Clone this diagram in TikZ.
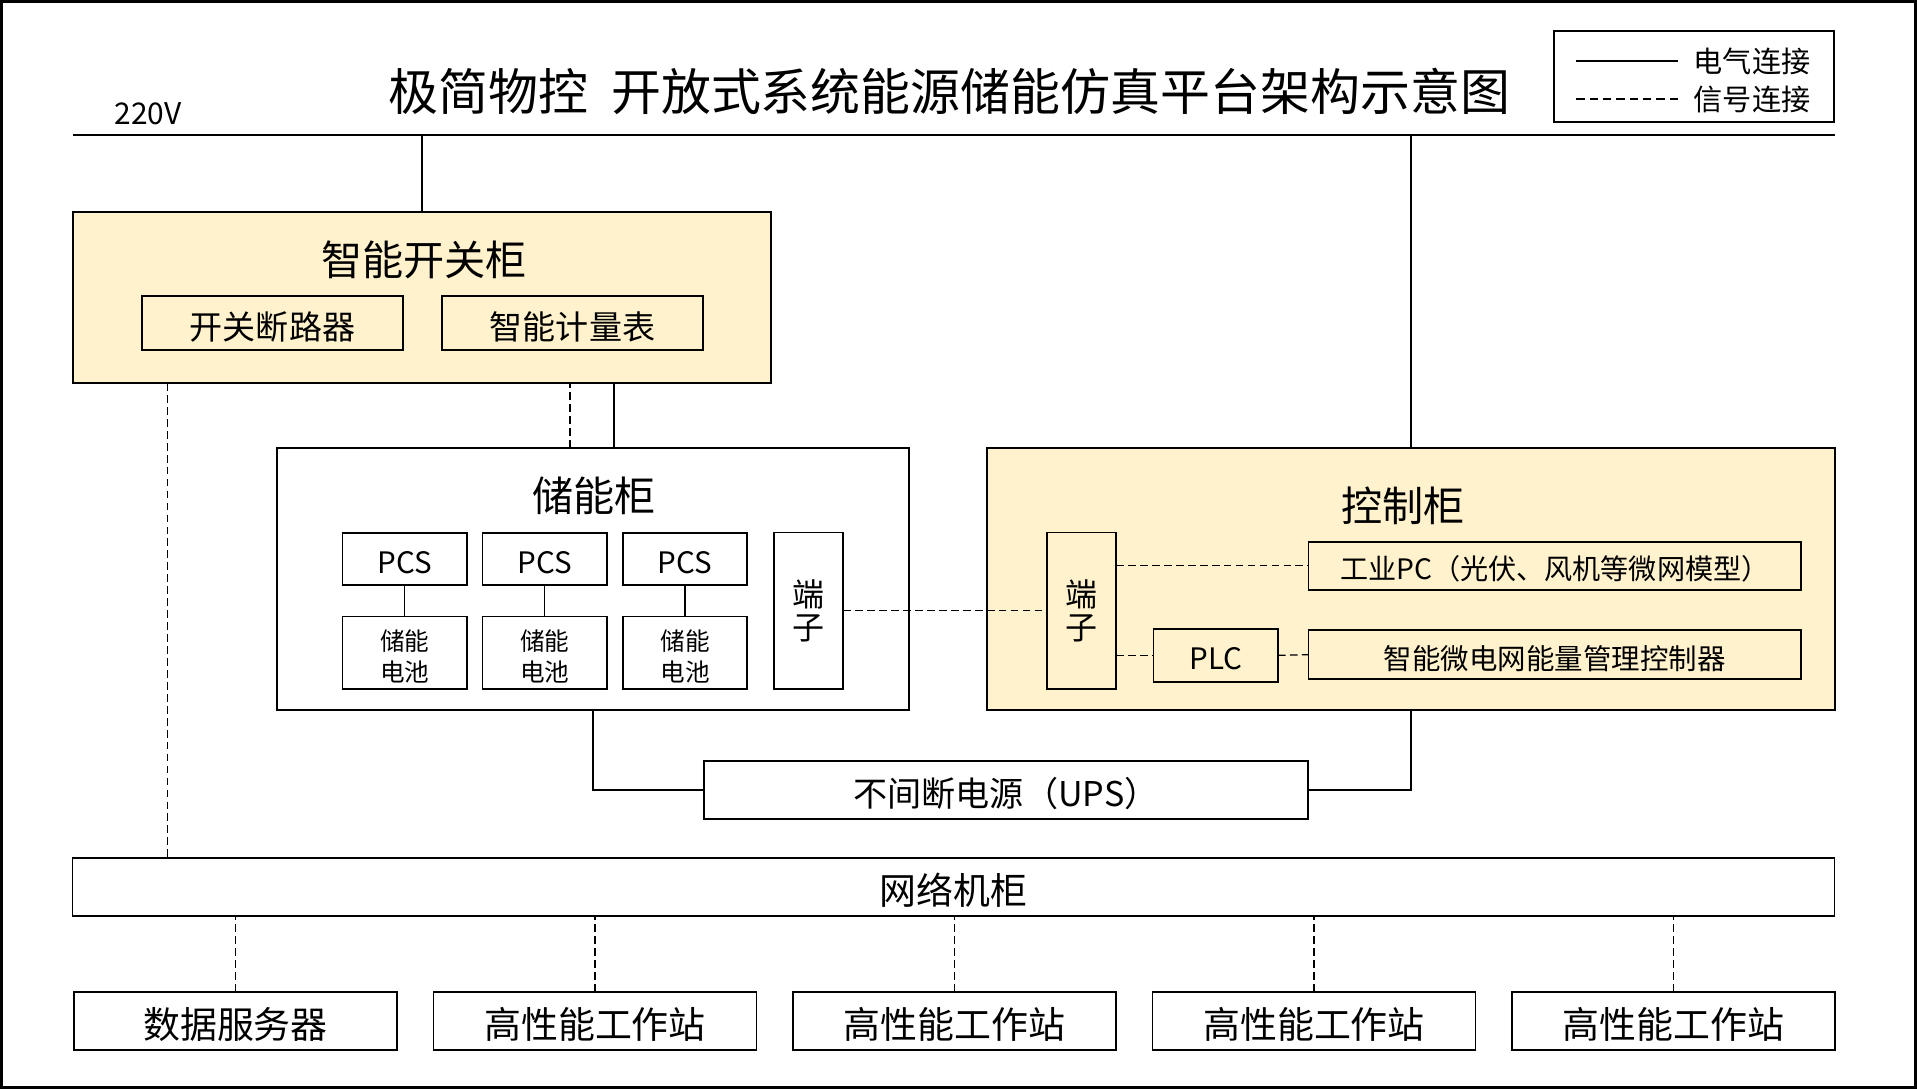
\documentclass[tikz,border=0pt]{standalone}
\usepackage{fontspec}
\setmainfont{Noto Sans CJK SC}
\usepackage{tikz}
\usetikzlibrary{positioning}
\definecolor{cabfill}{HTML}{FFF2CC}
\newcommand\dn[1]{\raisebox{-1pt}[\height][\depth]{#1}}
\tikzset{
  box/.style={draw, line width=0.5pt, inner sep=0pt, outer sep=0pt},
  cab/.style={box, fill=cabfill},
  ele/.style={line width=0.35pt},
  sig/.style={line width=0.35pt, dash pattern=on 2.2pt off 1.2pt},
  fs/.style={font=\fontsize{#1}{#1}\selectfont}
}

\begin{document}
\begin{tikzpicture}[x=0.01cm, y=-0.01cm]
\useasboundingbox (0,0) rectangle (1917,1089);
\draw[line width=0.6pt] (1.5,1.5) rectangle (1915.5,1087.5);
\node[fs=14.2] (title) at (949.5,91) {极简物控\hspace{0.45em}开放式系统能源储能仿真平台架构示意图};
\node[fs=8.5] (v) at (148,114) {220V};
\coordinate (bl) at (73,135);
\coordinate (br) at (1835,135);
\draw[line width=0.55pt] (bl) -- (br);
\node[box, line width=0.6pt, minimum width=2.8cm, minimum height=0.91cm] (lg) at (1694,76.5) {};
\node[fs=8.3] (le1) at (1752,61) {电气连接};
\node[fs=8.3] (le2) at (1752,99) {信号连接};
\draw[line width=0.45pt] ([xshift=-0.03cm]le1.west) -- ++(-102,0);
\draw[line width=0.45pt, dash pattern=on 2.4pt off 1.4pt] ([xshift=-0.03cm]le2.west) -- ++(-102,0);
\node[cab, minimum width=6.98cm, minimum height=1.71cm] (kg) at (422,297.5) {};
\node[fs=11.7] (kgt) at (424,260) {智能开关柜};
\node[box, fs=9.4, minimum width=2.61cm, minimum height=0.54cm] (kd) at (272.5,323) {\dn{开关断路器}};
\node[box, fs=9.4, minimum width=2.61cm, minimum height=0.54cm] (kj) at (572.5,323) {\dn{智能计量表}};
\node[box, fill=white, minimum width=6.32cm, minimum height=2.62cm] (cn) at (593,579) {};
\node[fs=11.7] (cnt) at (594,496) {储能柜};
\foreach \i in {1,2,3}{
\pgfmathsetmacro\xx{404.7+140.15*(\i-1)}
\node[box, fs=8.4, minimum width=1.245cm, minimum height=0.527cm] (p\i) at (\xx,559) {\dn{PCS}};
\node[box, minimum width=1.245cm, minimum height=0.723cm] (b\i) at (\xx,652.8) {};
\node[font=\fontsize{7}{8.8}\selectfont, align=center, inner sep=0pt, yshift=-1.1pt] (bt\i) at (b\i) {储能\\电池};
\draw[ele] (p\i) -- (b\i);
}
\node[box, font=\fontsize{9.1}{9.3}\selectfont, align=center, minimum width=0.696cm, minimum height=1.563cm] (d1) at (808.5,610.8) {端\\子};
\node[cab, minimum width=8.48cm, minimum height=2.62cm] (kz) at (1411,579) {};
\node[fs=11.7] (kzt) at (1403,506) {控制柜};
\node[box, font=\fontsize{9.1}{9.3}\selectfont, align=center, minimum width=0.694cm, minimum height=1.563cm] (d2) at (1081.4,610.8) {端\\子};
\node[box, fs=8, minimum width=4.925cm, minimum height=0.483cm] (pc) at (1554.8,565.8) {\dn{工业PC（光伏、风机等微网模型）}};
\node[box, fs=8.4, minimum width=1.245cm, minimum height=0.527cm] (plc) at (1215.7,655.3) {\dn{PLC}};
\node[box, fs=8.1, minimum width=4.925cm, minimum height=0.487cm] (em) at (1554.8,654.7) {\dn{智能微电网能量管理控制器}};
\node[box, fs=9.7, minimum width=6.04cm, minimum height=0.577cm] (ups) at (1006,790) {\dn{不间断电源（UPS）}};
\node[box, fs=10.5, minimum width=17.61cm, minimum height=0.58cm] (net) at (953.5,887) {\dn{网络机柜}};
\node[box, fs=10.5, minimum width=3.23cm, minimum height=0.58cm] (s0) at (235.5,1021) {\dn{数据服务器}};
\foreach \i in {1,...,4}{
\pgfmathsetmacro\xx{235.5+359.5*\i}
\node[box, fs=10.5, minimum width=3.23cm, minimum height=0.58cm] (s\i) at (\xx,1021) {\dn{高性能工作站}};
}
\draw[ele] (kg.north) -- (kg.north |- bl);
\draw[ele] (kz.north) -- (kz.north |- bl);
\draw[sig] ([xshift=-0.23cm]cn.north) -- ([xshift=-0.23cm]cn.north |- kg.south);
\draw[ele] ([xshift=0.21cm]cn.north) -- ([xshift=0.21cm]cn.north |- kg.south);
\draw[sig] ([xshift=0.95cm]kg.south west) -- ([xshift=0.95cm]kg.south west |- net.north);
\draw[sig] (d1.east) -- (d2.west);
\draw[sig] (d2.east |- pc.west) -- (pc.west);
\draw[sig] (d2.east |- plc.west) -- (plc.west);
\draw[sig] (plc.east) -- (em.west);
\draw[ele] (cn.south) |- (ups.west);
\draw[ele] (kz.south) |- (ups.east);
\foreach \i in {0,...,4}{
\draw[sig] (s\i.north) -- (s\i.north |- net.south);
}
\end{tikzpicture}
\end{document}
